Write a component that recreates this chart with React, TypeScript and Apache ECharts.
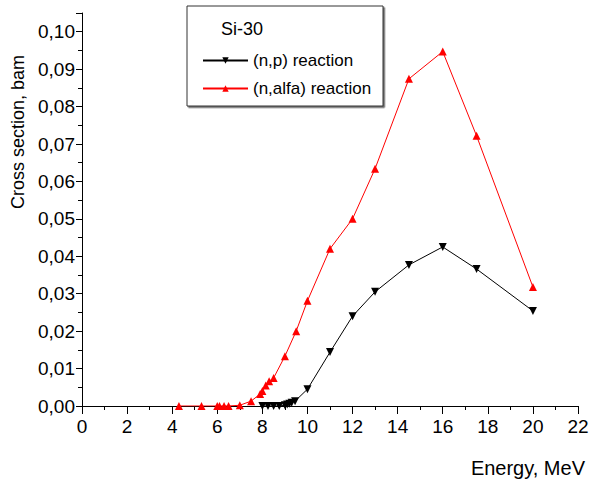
import React, { useEffect, useRef } from "react";
import * as echarts from "echarts";

const npEnergy = [8.0, 8.25, 8.5, 8.75, 9.0, 9.1, 9.2, 9.3, 9.45, 10, 11, 12, 13, 14.5, 16, 17.5, 20];
const npXs = [0, 0, 0, 0, 0.0002, 0.0004, 0.0006, 0.0009, 0.0013, 0.0045, 0.0144, 0.024, 0.0305, 0.0377, 0.0425, 0.0366, 0.0254];

const naEnergy = [4.3, 5.3, 6.0, 6.1, 6.3, 6.5, 7.0, 7.5, 7.9, 8.0, 8.15, 8.3, 8.5, 9.0, 9.5, 10, 11, 12, 13, 14.5, 16, 17.5, 20];
const naXs = [0, 0, 0, 0, 0, 0, 0.0002, 0.0013, 0.0032, 0.004, 0.0055, 0.0066, 0.0075, 0.0133, 0.02, 0.0281, 0.042, 0.05, 0.0634, 0.0874, 0.0947, 0.0722, 0.0318];

const FONT = "'Liberation Sans', Arial, sans-serif";

export default function App() {
  const ref = useRef<HTMLDivElement>(null);
  useEffect(() => {
    if (!ref.current) return;
    const chart = echarts.init(ref.current, undefined, { renderer: "svg" });
    const zip = (xs: number[], ys: number[]) => xs.map((x, i) => [x, ys[i]]);
    chart.setOption({
      animation: false,
      backgroundColor: "#fff",
      textStyle: { fontFamily: FONT },
      grid: { left: 82, right: 19, top: 13, bottom: 79, containLabel: false },
      xAxis: {
        type: "value",
        min: 0,
        max: 22,
        interval: 2,
        axisLine: { show: true, lineStyle: { color: "#000", width: 1 }, onZero: false },
        axisTick: { show: true, length: 8, inside: false, lineStyle: { color: "#000" } },
        minorTick: { show: true, splitNumber: 2, length: 4, lineStyle: { color: "#000" } },
        axisLabel: { color: "#000", fontSize: 19, fontFamily: FONT, margin: 11 },
        splitLine: { show: false },
      },
      yAxis: {
        type: "value",
        min: 0,
        max: 0.105,
        interval: 0.01,
        axisLine: { show: true, lineStyle: { color: "#000", width: 1 }, onZero: false },
        axisTick: { show: true, length: 6, inside: false, lineStyle: { color: "#000" } },
        minorTick: { show: true, splitNumber: 2, length: 4, lineStyle: { color: "#000" } },
        axisLabel: {
          color: "#000",
          fontSize: 19,
          fontFamily: FONT,
          margin: 7,
          formatter: (v: number) => (v > 0.1001 ? "" : v.toFixed(2).replace(".", ",")),
        },
        splitLine: { show: false },
      },
      legend: {
        orient: "vertical",
        left: 197,
        top: 47,
        itemWidth: 45,
        itemHeight: 8,
        itemGap: 11,
        textStyle: { color: "#000", fontSize: 17, fontFamily: FONT },
        data: ["(n,p) reaction", "(n,alfa) reaction"],
      },
      graphic: [
        {
          type: "rect",
          shape: { x: 187, y: 6, width: 196, height: 100 },
          style: { fill: "#fff", stroke: "#333", lineWidth: 1, shadowColor: "rgba(0,0,0,0.6)", shadowOffsetX: 1.5, shadowOffsetY: 1.5, shadowBlur: 0 },
          z: -1,
        },
        {
          type: "text",
          x: 221,
          y: 20,
          style: { text: "Si-30", fontSize: 18, fontFamily: FONT, fill: "#000" },
        },
        {
          type: "text",
          x: 18,
          y: 132,
          rotation: Math.PI / 2,
          style: { text: "Cross section, bam", fontSize: 18, fontFamily: FONT, fill: "#000", align: "center", verticalAlign: "middle" },
        },
        {
          type: "text",
          x: 585,
          y: 468,
          style: { text: "Energy, MeV", fontSize: 20, fontFamily: FONT, fill: "#000", align: "right", verticalAlign: "middle" },
        },
      ],
      series: [
        {
          name: "(n,p) reaction",
          type: "line",
          data: zip(npEnergy, npXs),
          symbol: "triangle",
          symbolRotate: 180,
          symbolSize: 8,
          lineStyle: { color: "#000", width: 1 },
          itemStyle: { color: "#000" },
          z: 3,
        },
        {
          name: "(n,alfa) reaction",
          type: "line",
          data: zip(naEnergy, naXs),
          symbol: "triangle",
          symbolSize: 8,
          lineStyle: { color: "#ff0000", width: 1 },
          itemStyle: { color: "#ff0000" },
          z: 2,
        },
      ],
    });
    return () => chart.dispose();
  }, []);
  return <div ref={ref} style={{ width: 597, height: 485, position: "absolute", left: 0, top: 0 }} />;
}
